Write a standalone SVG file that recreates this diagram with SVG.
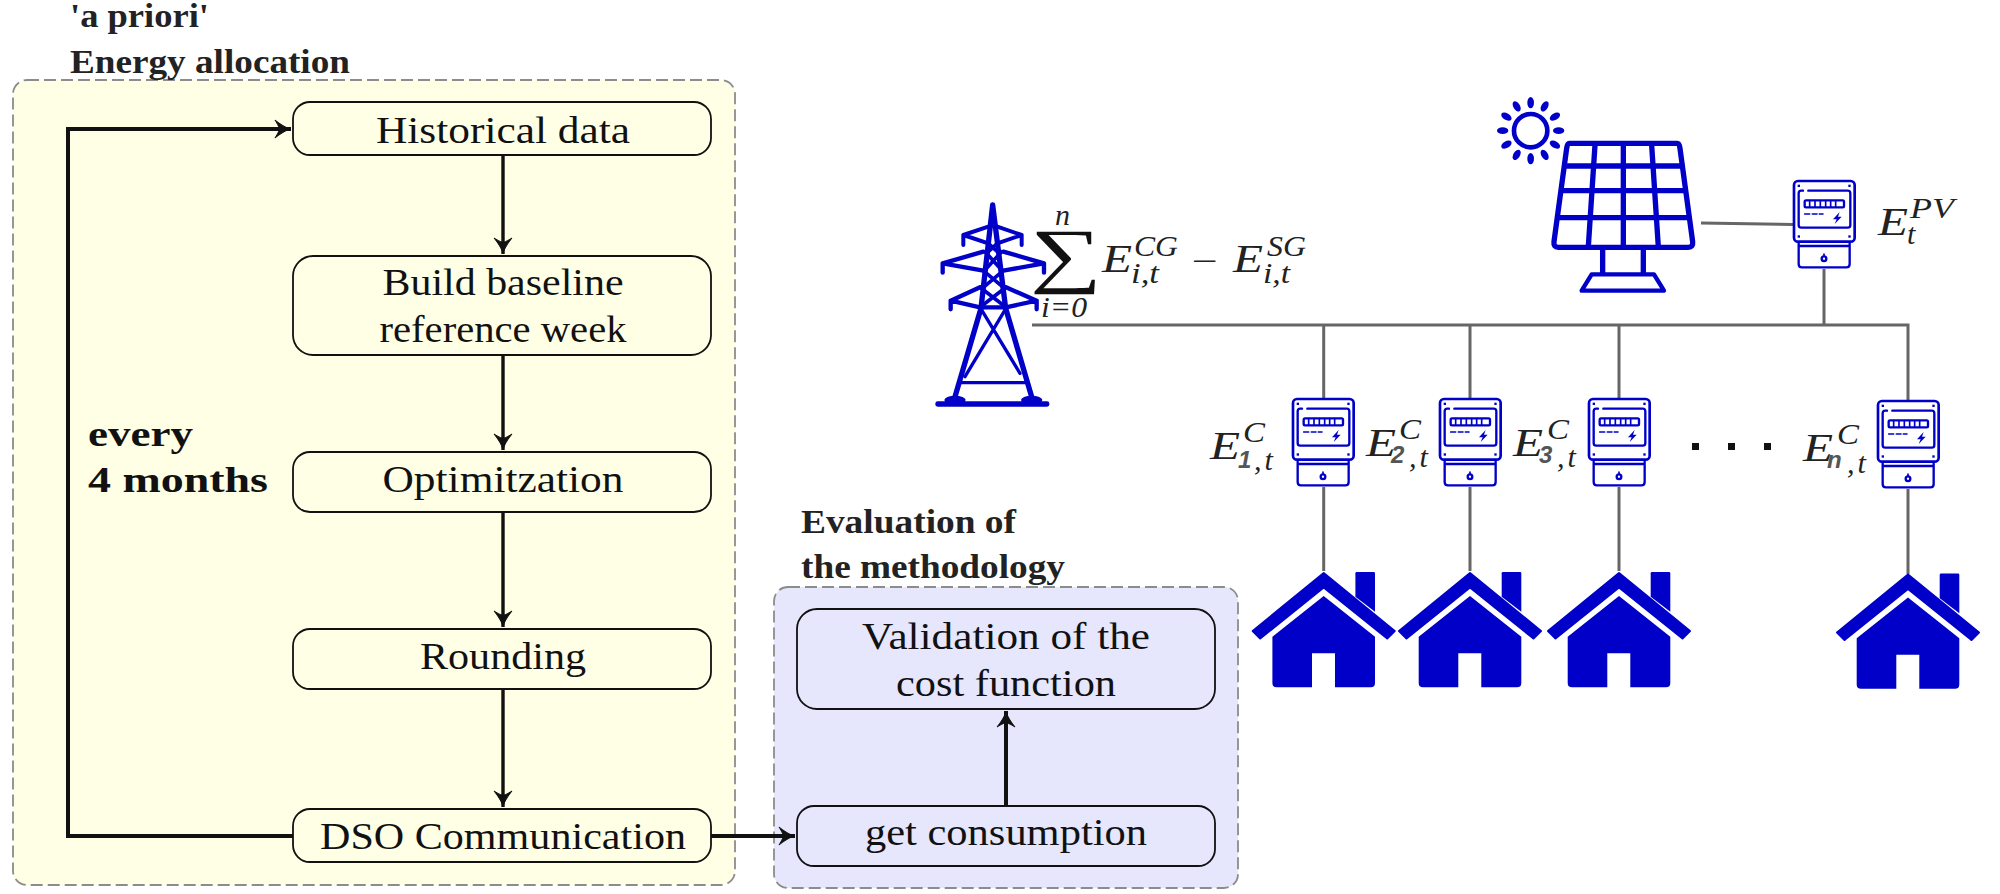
<svg xmlns="http://www.w3.org/2000/svg" xmlns:xlink="http://www.w3.org/1999/xlink" width="2000" height="894" viewBox="0 0 2000 894">
<style>
text{font-family:"Liberation Serif","Times New Roman",serif;fill:#111}
.lbl{font-size:38px;text-anchor:middle}
.ttl{font-size:34px;font-weight:700;fill:#222}
.bf{font-size:36px;font-weight:700;fill:#111}
.mE{font-size:41px;font-style:italic;fill:#222}
.mS{font-size:30px;font-style:italic;fill:#222}
.mU{font-size:30px;fill:#222}
.mT{font-size:30px;font-style:italic;fill:#222;letter-spacing:3px}
.mN{font-size:24px;font-style:italic;font-weight:700;fill:#555;font-family:"Liberation Sans",Arial,sans-serif}
.box{stroke:#111;stroke-width:1.8}
.yel{fill:#FFFFE6}
.blu{fill:#E6E6FC}
.grp{stroke:#8c8c8c;stroke-width:1.8;stroke-dasharray:12 5}
.arr{fill:none;stroke:#111;stroke-width:3.4;marker-end:url(#ah)}
.wire{fill:none;stroke:#666;stroke-width:3}
.ic{fill:none;stroke:#0000C8;stroke-linejoin:round;stroke-linecap:round}
.f{fill:#0000C8}
</style>
<defs>
<marker id="ah" markerUnits="userSpaceOnUse" markerWidth="22" markerHeight="22" refX="18" refY="11" orient="auto" viewBox="0 0 22 22">
<path d="M18,11 C13,10 7,6 2,2 C5,7 6,9 6,11 C6,13 5,15 2,20 C7,16 13,12 18,11Z" fill="#111" stroke="#111" stroke-width="1"/>
</marker>
<g id="meter" transform="scale(.3333)">
<rect class="ic" x="3" y="3" width="182" height="182" rx="12" stroke-width="8"/>
<path class="ic" stroke-width="7" d="M30,32H25Q17,32 17,40V135Q17,143 25,143H164Q172,143 172,135V40Q172,32 164,32H46"/>
<rect class="ic" x="35" y="61" width="118" height="21" rx="4" stroke-width="7"/>
<path class="ic" stroke-width="5" d="M50,62V81M66,62V81M82,62V81M98,62V81M113,62V81M128,62V81"/>
<path class="ic" stroke-width="5" stroke-linecap="butt" d="M35,102H50M58,102H72M79,102H90"/>
<path class="f" d="M140,96L120,118H131L125,132L146,110H135Z"/>
<rect class="f" x="14" y="14" width="7" height="7"/><rect class="f" x="166" y="14" width="7" height="7"/><rect class="f" x="14" y="166" width="7" height="7"/><rect class="f" x="166" y="166" width="7" height="7"/>
<path class="ic" stroke-width="7" d="M17,190V252Q17,262 27,262H160Q170,262 170,252V190M17,198H170"/>
<circle class="ic" cx="93" cy="236" r="7" stroke-width="7"/><path class="ic" stroke-width="5" d="M93,222V229"/>
</g>
<g id="house">
<path class="f" d="M0,1L71,59L63.5,66.5L0,15.5L-63.5,66.5L-71,59Z" stroke="#0000C8" stroke-width="2" stroke-linejoin="round"/>
<path class="f" d="M33,0H50Q51.3,0 51.3,1.3V39.7L31.7,24.7V1.3Q31.7,0 33,0Z"/>
<path class="f" d="M0,24L51.3,64.7V111Q51.3,115.3 47,115.3H11.3V81.3H-11.7V115.3H-47Q-51.3,115.3 -51.3,111V64.7Z"/>
</g>
</defs>
<rect width="2000" height="894" fill="#fff"/>

<g id="group-apriori">
<rect class="yel" x="13" y="80" width="722" height="805" rx="14"/>
<rect class="grp" fill="none" x="13" y="80" width="722" height="805" rx="14"/>
</g>
<g id="group-evaluation">
<rect class="blu" x="774" y="587" width="464" height="301" rx="14"/>
<rect class="grp" fill="none" x="774" y="587" width="464" height="301" rx="14"/>
</g>

<g id="connectors">
<path class="arr" d="M503,155V254"/>
<path class="arr" d="M503,355V450"/>
<path class="arr" d="M503,513V627"/>
<path class="arr" d="M503,689V807"/>
<path class="arr" stroke-width="4" style="stroke-width:4" d="M293,836H68V129H291"/>
<path class="arr" style="stroke-width:4" d="M711,836H795"/>
<path class="arr" style="stroke-width:4" d="M1006,806V711"/>
<path class="wire" d="M1032,325H1908V400M1323.7,325V398M1470,325V398M1619,325V398M1824,325V269M1701,223L1793,224.5"/>
<path class="wire" d="M1323.7,487V571M1470,487V571M1619,487V571M1908,489V574"/>
</g>

<g id="label-apriori">
<text class="ttl" x="70" y="27" textLength="139" lengthAdjust="spacingAndGlyphs">'a priori'</text>
<text class="ttl" x="70" y="73" textLength="280" lengthAdjust="spacingAndGlyphs">Energy allocation</text>
</g>
<g id="label-evaluation">
<text class="ttl" x="801" y="533" textLength="215" lengthAdjust="spacingAndGlyphs">Evaluation of</text>
<text class="ttl" x="801" y="578" textLength="264" lengthAdjust="spacingAndGlyphs">the methodology</text>
</g>
<g id="label-every">
<text class="bf" x="88" y="446" textLength="105" lengthAdjust="spacingAndGlyphs">every</text>
<text class="bf" x="88" y="492" textLength="180" lengthAdjust="spacingAndGlyphs">4 months</text>
</g>

<g id="n-historical"><rect class="box yel" x="293" y="102" width="418" height="53" rx="17"/><text class="lbl" x="503" y="143" textLength="254" lengthAdjust="spacingAndGlyphs">Historical data</text></g>
<g id="n-baseline"><rect class="box yel" x="293" y="256" width="418" height="99" rx="20"/><text class="lbl" x="503" y="295" textLength="241" lengthAdjust="spacingAndGlyphs">Build baseline</text><text class="lbl" x="503" y="342" textLength="247" lengthAdjust="spacingAndGlyphs">reference week</text></g>
<g id="n-optim"><rect class="box yel" x="293" y="452" width="418" height="60" rx="17"/><text class="lbl" x="503" y="492" textLength="241" lengthAdjust="spacingAndGlyphs">Optimitzation</text></g>
<g id="n-round"><rect class="box yel" x="293" y="629" width="418" height="60" rx="17"/><text class="lbl" x="503" y="669" textLength="166" lengthAdjust="spacingAndGlyphs">Rounding</text></g>
<g id="n-dso"><rect class="box yel" x="293" y="809" width="418" height="53" rx="17"/><text class="lbl" x="503" y="849" textLength="366" lengthAdjust="spacingAndGlyphs">DSO Communication</text></g>
<g id="n-validation"><rect class="box blu" x="797" y="609" width="418" height="100" rx="20"/><text class="lbl" x="1006" y="649" textLength="288" lengthAdjust="spacingAndGlyphs">Validation of the</text><text class="lbl" x="1006" y="696" textLength="220" lengthAdjust="spacingAndGlyphs">cost function</text></g>
<g id="n-consumption"><rect class="box blu" x="797" y="806" width="418" height="60" rx="17"/><text class="lbl" x="1006" y="845" textLength="282" lengthAdjust="spacingAndGlyphs">get consumption</text></g>

<g id="tower" transform="translate(920 180) scale(.3333)">
<g class="ic" stroke-width="10">
<path stroke-width="16" d="M218,75L183,385L105,650M218,75L257,385L335,650"/>
<path stroke-width="12" d="M130,165L205,140M305,165L232,140M130,165L205,190M305,165L232,190M130,165V195M305,165V195"/>
<path stroke-width="13" d="M68,250L190,215M372,250L250,215M68,250L190,272M372,250L250,272M68,250V278M372,250V278"/>
<path stroke-width="13" d="M92,362L180,322M350,362L258,322M92,362L180,382H258L350,362M92,362V388M350,362V388"/>
<path stroke-width="11" d="M195,215L245,270M245,215L195,270M190,272L250,322M250,272L190,322M180,322L258,382M258,322L180,382M205,190L232,215M232,190L205,215"/>
<path d="M182,385L300,580M258,385L135,590"/>
<path d="M125,608H315"/>
</g>
<rect class="f" x="46" y="664" width="342" height="16" rx="7"/>
<ellipse class="f" cx="105" cy="660" rx="32" ry="13"/><ellipse class="f" cx="335" cy="660" rx="32" ry="13"/>
</g>

<g id="formula">
<text x="1030" y="279" font-size="72" textLength="72" lengthAdjust="spacingAndGlyphs">∑</text>
<text class="mS" x="1055" y="225">n</text>
<text class="mS" x="1041" y="317" textLength="46" lengthAdjust="spacingAndGlyphs">i<tspan class="mU">=0</tspan></text>
<text class="mE" x="1102" y="272" textLength="30" lengthAdjust="spacingAndGlyphs">E</text>
<text class="mS" x="1134" y="256" textLength="44" lengthAdjust="spacingAndGlyphs">CG</text>
<text class="mS" x="1131" y="283" textLength="28" lengthAdjust="spacingAndGlyphs">i,t</text>
<text class="mU" x="1192" y="271" font-size="40" textLength="26" lengthAdjust="spacingAndGlyphs">−</text>
<text class="mE" x="1233" y="272" textLength="30" lengthAdjust="spacingAndGlyphs">E</text>
<text class="mS" x="1267" y="256" textLength="39" lengthAdjust="spacingAndGlyphs">SG</text>
<text class="mS" x="1263" y="283" textLength="27" lengthAdjust="spacingAndGlyphs">i,t</text>
</g>

<g id="solar" transform="translate(1480 90) scale(.3333)">
<g class="ic" stroke-width="16">
<path d="M268,160H592Q598,160 600,175L638,455Q640,472 625,472H235Q220,472 222,455L260,175Q262,160 268,160Z"/>
<path d="M255,228H605M245,302H615M235,383H625M345,165L325,470M430,165V470M515,165L535,470"/>
<path d="M368,475V550M490,475V550"/>
<path stroke-width="13" d="M335,553H522L552,602H305Z"/>
</g>
</g>
<g id="sun" transform="translate(1480 90) scale(.3333)">
<circle class="ic" cx="152" cy="122" r="50" stroke-width="14"/>
<g class="f">
<ellipse cx="152" cy="38" rx="10" ry="17"/>
<ellipse cx="152" cy="38" rx="10" ry="17" transform="rotate(30 152 122)"/>
<ellipse cx="152" cy="38" rx="10" ry="17" transform="rotate(60 152 122)"/>
<ellipse cx="152" cy="38" rx="10" ry="17" transform="rotate(90 152 122)"/>
<ellipse cx="152" cy="38" rx="10" ry="17" transform="rotate(120 152 122)"/>
<ellipse cx="152" cy="38" rx="10" ry="17" transform="rotate(150 152 122)"/>
<ellipse cx="152" cy="38" rx="10" ry="17" transform="rotate(180 152 122)"/>
<ellipse cx="152" cy="38" rx="10" ry="17" transform="rotate(210 152 122)"/>
<ellipse cx="152" cy="38" rx="10" ry="17" transform="rotate(240 152 122)"/>
<ellipse cx="152" cy="38" rx="10" ry="17" transform="rotate(270 152 122)"/>
<ellipse cx="152" cy="38" rx="10" ry="17" transform="rotate(300 152 122)"/>
<ellipse cx="152" cy="38" rx="10" ry="17" transform="rotate(330 152 122)"/>
</g>
</g>

<g id="meter-pv"><use href="#meter" x="1793" y="180"/></g>
<g id="meter-1"><use href="#meter" x="1292" y="398"/></g>
<g id="meter-2"><use href="#meter" x="1439" y="398"/></g>
<g id="meter-3"><use href="#meter" x="1588" y="398"/></g>
<g id="meter-n"><use href="#meter" x="1877" y="400"/></g>

<g id="house-1"><use href="#house" x="1323.7" y="572"/></g>
<g id="house-2"><use href="#house" x="1470" y="572"/></g>
<g id="house-3"><use href="#house" x="1619" y="572"/></g>
<g id="house-n"><use href="#house" x="1908" y="573.5"/></g>

<g id="label-pv">
<text class="mE" x="1878" y="235" textLength="30" lengthAdjust="spacingAndGlyphs">E</text>
<text class="mS" x="1910" y="218" textLength="44" lengthAdjust="spacingAndGlyphs">PV</text>
<text class="mS" x="1907" y="244">t</text>
</g>
<g id="label-1">
<text class="mE" x="1210" y="459" textLength="30" lengthAdjust="spacingAndGlyphs">E</text>
<text class="mS" x="1243" y="442" textLength="22" lengthAdjust="spacingAndGlyphs">C</text>
<text class="mN" x="1238" y="468">1</text>
<text class="mT" x="1254" y="470">,t</text>
</g>
<g id="label-2">
<text class="mE" x="1366" y="456" textLength="30" lengthAdjust="spacingAndGlyphs">E</text>
<text class="mS" x="1399" y="439" textLength="22" lengthAdjust="spacingAndGlyphs">C</text>
<text class="mN" x="1391" y="463">2</text>
<text class="mT" x="1409" y="467">,t</text>
</g>
<g id="label-3">
<text class="mE" x="1513" y="456" textLength="30" lengthAdjust="spacingAndGlyphs">E</text>
<text class="mS" x="1547" y="439" textLength="22" lengthAdjust="spacingAndGlyphs">C</text>
<text class="mN" x="1539" y="463">3</text>
<text class="mT" x="1557" y="467">,t</text>
</g>
<g id="label-n">
<text class="mE" x="1803" y="461" textLength="30" lengthAdjust="spacingAndGlyphs">E</text>
<text class="mS" x="1837" y="444" textLength="22" lengthAdjust="spacingAndGlyphs">C</text>
<text class="mN" x="1827" y="468">n</text>
<text class="mT" x="1847" y="473">,t</text>
</g>
<g id="dots" fill="#111"><rect x="1692" y="443" width="7" height="7"/><rect x="1728" y="443" width="7" height="7"/><rect x="1764" y="443" width="7" height="7"/></g>
</svg>
